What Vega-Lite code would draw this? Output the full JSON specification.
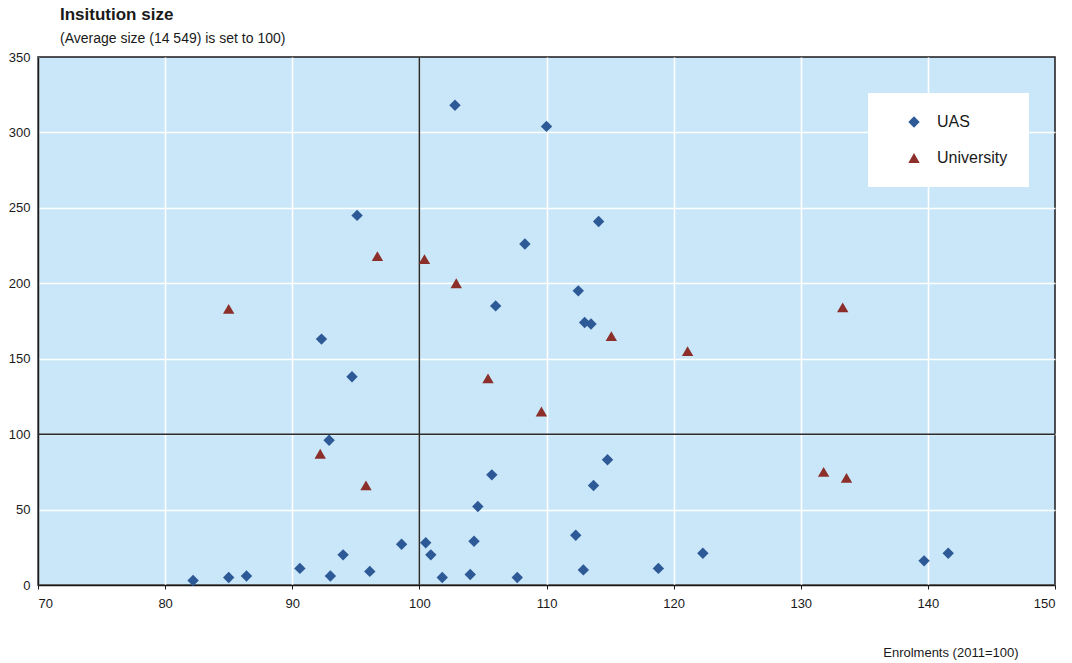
{
  "$schema": "https://vega.github.io/schema/vega-lite/v6.json",
  "width": 1017,
  "height": 528,
  "autosize": {"type": "none"},
  "padding": {"left": 38, "top": 57, "right": 17, "bottom": 78},
  "background": "white",
  "config": {
    "font": "Liberation Sans Narrow, Liberation Sans, Arial, sans-serif",
    "view": {"fill": "#c9e7f8", "stroke": "#1a1a1a", "strokeWidth": 1.5},
    "axis": {
      "grid": true,
      "gridWidth": 1.6,
      "domainColor": "#1a1a1a",
      "domainWidth": 1.5,
      "tickColor": "#1a1a1a",
      "tickSize": 4,
      "labelColor": "#1a1a1a",
      "labelFontSize": 13,
      "titleColor": "#1a1a1a"
    },
    "legend": {
      "orient": "none",
      "legendX": 830,
      "legendY": 36,
      "fillColor": "#ffffff",
      "strokeColor": null,
      "padding": 21,
      "rowPadding": 20,
      "symbolOffset": 17,
      "labelOffset": 15,
      "labelFontSize": 16,
      "labelColor": "#1a1a1a",
      "symbolSize": 130,
      "symbolStrokeWidth": 0
    }
  },
  "title": {
    "text": "Insitution size",
    "subtitle": "(Average size (14 549) is set to 100)",
    "anchor": "start",
    "frame": "group",
    "dx": 22,
    "offset": 4,
    "fontSize": 17,
    "fontWeight": "bold",
    "color": "#1a1a1a",
    "subtitleFontSize": 14,
    "subtitleColor": "#1a1a1a",
    "subtitlePadding": 8
  },
  "datasets": {
    "points": [
      {"type": "UAS", "enrolments": 102.8, "size": 318},
      {"type": "UAS", "enrolments": 110.0, "size": 304},
      {"type": "UAS", "enrolments": 95.1, "size": 245},
      {"type": "UAS", "enrolments": 114.1, "size": 241},
      {"type": "UAS", "enrolments": 108.3, "size": 226},
      {"type": "UAS", "enrolments": 112.5, "size": 195},
      {"type": "UAS", "enrolments": 106.0, "size": 185},
      {"type": "UAS", "enrolments": 113.0, "size": 174},
      {"type": "UAS", "enrolments": 113.5, "size": 173},
      {"type": "UAS", "enrolments": 92.3, "size": 163},
      {"type": "UAS", "enrolments": 94.7, "size": 138},
      {"type": "UAS", "enrolments": 92.9, "size": 96},
      {"type": "UAS", "enrolments": 114.8, "size": 83},
      {"type": "UAS", "enrolments": 105.7, "size": 73},
      {"type": "UAS", "enrolments": 113.7, "size": 66},
      {"type": "UAS", "enrolments": 104.6, "size": 52},
      {"type": "UAS", "enrolments": 112.3, "size": 33},
      {"type": "UAS", "enrolments": 104.3, "size": 29},
      {"type": "UAS", "enrolments": 98.6, "size": 27},
      {"type": "UAS", "enrolments": 100.5, "size": 28},
      {"type": "UAS", "enrolments": 100.9, "size": 20},
      {"type": "UAS", "enrolments": 94.0, "size": 20},
      {"type": "UAS", "enrolments": 122.3, "size": 21},
      {"type": "UAS", "enrolments": 141.6, "size": 21},
      {"type": "UAS", "enrolments": 139.7, "size": 16},
      {"type": "UAS", "enrolments": 90.6, "size": 11},
      {"type": "UAS", "enrolments": 112.9, "size": 10},
      {"type": "UAS", "enrolments": 118.8, "size": 11},
      {"type": "UAS", "enrolments": 96.1, "size": 9},
      {"type": "UAS", "enrolments": 93.0, "size": 6},
      {"type": "UAS", "enrolments": 104.0, "size": 7},
      {"type": "UAS", "enrolments": 101.8, "size": 5},
      {"type": "UAS", "enrolments": 107.7, "size": 5},
      {"type": "UAS", "enrolments": 82.2, "size": 3},
      {"type": "UAS", "enrolments": 85.0, "size": 5},
      {"type": "UAS", "enrolments": 86.4, "size": 6},
      {"type": "University", "enrolments": 85.0, "size": 183},
      {"type": "University", "enrolments": 96.7, "size": 218},
      {"type": "University", "enrolments": 100.4, "size": 216},
      {"type": "University", "enrolments": 102.9, "size": 200},
      {"type": "University", "enrolments": 105.4, "size": 137},
      {"type": "University", "enrolments": 109.6, "size": 115},
      {"type": "University", "enrolments": 115.1, "size": 165},
      {"type": "University", "enrolments": 121.1, "size": 155},
      {"type": "University", "enrolments": 133.3, "size": 184},
      {"type": "University", "enrolments": 92.2, "size": 87},
      {"type": "University", "enrolments": 95.8, "size": 66},
      {"type": "University", "enrolments": 131.8, "size": 75},
      {"type": "University", "enrolments": 133.6, "size": 71}
    ],
    "refs": [{"v": 100}]
  },
  "layer": [
    {
      "data": {"name": "refs"},
      "mark": {"type": "rule", "color": "#2a2a2a", "strokeWidth": 1.5},
      "encoding": {"x": {"field": "v", "type": "quantitative"}}
    },
    {
      "data": {"name": "refs"},
      "mark": {"type": "rule", "color": "#2a2a2a", "strokeWidth": 1.5},
      "encoding": {"y": {"field": "v", "type": "quantitative"}}
    },
    {
      "data": {"name": "points"},
      "mark": {"type": "point", "filled": true, "opacity": 1, "size": 130, "strokeWidth": 0},
      "encoding": {
        "x": {
          "field": "enrolments",
          "type": "quantitative",
          "scale": {"domain": [70, 150], "nice": false, "zero": false},
          "axis": {
            "values": [70, 80, 90, 100, 110, 120, 130, 140, 150],
            "gridColor": {"condition": {"test": "datum.value >= 150", "value": "transparent"}, "value": "#ffffff"},
            "labelPadding": 8,
            "title": "Enrolments (2011=100)",
            "titleFontSize": 13,
            "titleFontWeight": "normal",
            "titleAnchor": "end",
            "titleAlign": "right",
            "titleBaseline": "middle",
            "titleX": 980,
            "titleY": 67
          }
        },
        "y": {
          "field": "size",
          "type": "quantitative",
          "scale": {"domain": [0, 350], "nice": false},
          "axis": {
            "values": [0, 50, 100, 150, 200, 250, 300, 350],
            "gridColor": {"condition": {"test": "datum.value >= 350", "value": "transparent"}, "value": "#ffffff"},
            "ticks": false,
            "labelPadding": 8,
            "title": null
          }
        },
        "color": {
          "field": "type",
          "type": "nominal",
          "scale": {"domain": ["UAS", "University"], "range": ["#2d5a97", "#8c2f2b"]},
          "legend": {"title": null, "labelExpr": "datum.label + '\u00a0\u00a0\u00a0\u00a0\u00a0'"}
        },
        "shape": {
          "field": "type",
          "type": "nominal",
          "scale": {"domain": ["UAS", "University"], "range": ["diamond", "triangle-up"]},
          "legend": {"title": null, "labelExpr": "datum.label + '\u00a0\u00a0\u00a0\u00a0\u00a0'"}
        }
      }
    }
  ]
}
